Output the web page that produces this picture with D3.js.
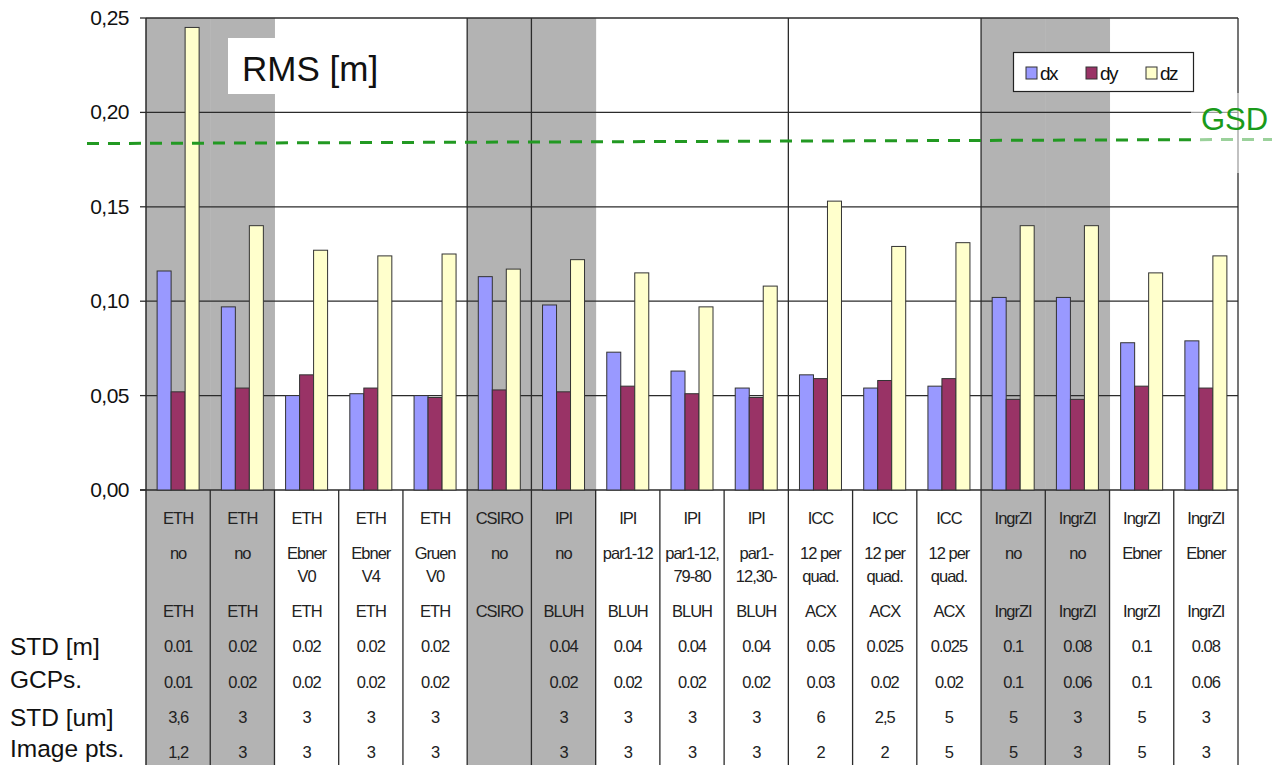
<!DOCTYPE html>
<html><head><meta charset="utf-8">
<script src="https://cdn.jsdelivr.net/npm/d3@7"></script>
<style>
html,body{margin:0;padding:0;background:#fff;}
svg{display:block;}
text{font-family:"Liberation Sans",Arial,sans-serif;}
</style></head>
<body>
<script>
// ---- data ----
const categories = ["ETH no (1)","ETH no (2)","ETH Ebner V0","ETH Ebner V4","ETH Gruen V0","CSIRO no","IPI no","IPI par1-12","IPI par1-12,79-80","IPI par1-12,30-","ICC 12pq A","ICC 12pq B","ICC 12pq C","IngrZI no A","IngrZI no B","IngrZI Ebner A","IngrZI Ebner B"];
const seriesNames = ["dx","dy","dz"];
const dxValues = [0.116,0.097,0.050,0.051,0.050,0.113,0.098,0.073,0.063,0.054,0.061,0.054,0.055,0.102,0.102,0.078,0.079];
const dyValues = [0.052,0.054,0.061,0.054,0.049,0.053,0.052,0.055,0.051,0.049,0.059,0.058,0.059,0.048,0.048,0.055,0.054];
const dzValues = [0.245,0.140,0.127,0.124,0.125,0.117,0.122,0.115,0.097,0.108,0.153,0.129,0.131,0.140,0.140,0.115,0.124];
const seriesColors = ["#9999ff","#993366","#ffffcc"];
const shadedCategories = [0,1,5,6,13,14];
const groupSeparators = [5,6,10,13]; // category index where a new group begins
const yTicks = [0,0.05,0.10,0.15,0.20,0.25];
const yTickLabels = ["0,00","0,05","0,10","0,15","0,20","0,25"];
const gsdValueStart = 0.1835, gsdValueEnd = 0.1857;

const rowInstitution = ["ETH","ETH","ETH","ETH","ETH","CSIRO","IPI","IPI","IPI","IPI","ICC","ICC","ICC","IngrZI","IngrZI","IngrZI","IngrZI"];
const rowSelfCal = ["no","no","Ebner\nV0","Ebner\nV4","Gruen\nV0","no","no","par1-12","par1-12,\n79-80","par1-\n12,30-","12 per\nquad.","12 per\nquad.","12 per\nquad.","no","no","Ebner","Ebner"];
const rowSoftware = ["ETH","ETH","ETH","ETH","ETH","CSIRO","BLUH","BLUH","BLUH","BLUH","ACX","ACX","ACX","IngrZI","IngrZI","IngrZI","IngrZI"];
const rowStdM1 = ["0.01","0.02","0.02","0.02","0.02","","0.04","0.04","0.04","0.04","0.05","0.025","0.025","0.1","0.08","0.1","0.08"];
const rowStdM2 = ["0.01","0.02","0.02","0.02","0.02","","0.02","0.02","0.02","0.02","0.03","0.02","0.02","0.1","0.06","0.1","0.06"];
const rowStdUm1 = ["3,6","3","3","3","3","","3","3","3","3","6","2,5","5","5","3","5","3"];
const rowStdUm2 = ["1,2","3","3","3","3","","3","3","3","3","2","2","5","5","3","5","3"];
const tableRows = [rowInstitution,rowSelfCal,rowSoftware,rowStdM1,rowStdM2,rowStdUm1,rowStdUm2];
const rowLabels = ["STD [m]","GCPs.","STD [um]","Image pts."];
const legendLabels = ["dx","dy","dz"];

// ---- layout ----
const W = 1282, H = 765;
const plotL = 146, plotR = 1238, plotT = 18, plotB = 490;
const svg = d3.select("body").append("svg").attr("width",W).attr("height",H);

const x = d3.scaleBand().domain(d3.range(categories.length)).range([plotL,plotR]).padding(0);
const xs = d3.scaleBand().domain(seriesNames).range([0,x.bandwidth()]).paddingInner(0).paddingOuter(0.794);
const y = d3.scaleLinear().domain([0,0.25]).range([plotB,plotT]);
const seriesData = [dxValues,dyValues,dzValues];
const shadeColor = "#b3b3b3";
const lineColor = "#2b2b2b";

// shading (plot + table)
svg.append("g").selectAll("rect").data(shadedCategories).join("rect")
  .attr("x",d=>x(d)).attr("y",plotT).attr("width",x.bandwidth()+0.5).attr("height",H-plotT)
  .attr("fill",shadeColor);

// horizontal grid
svg.append("g").selectAll("line").data(yTicks).join("line")
  .attr("x1",d=>d===0?140:plotL).attr("x2",plotR).attr("y1",d=>y(d)).attr("y2",d=>y(d))
  .attr("stroke",lineColor).attr("stroke-width",1.3);

// y ticks on axis
svg.append("g").selectAll("line").data(yTicks).join("line")
  .attr("x1",140).attr("x2",plotL).attr("y1",d=>y(d)).attr("y2",d=>y(d))
  .attr("stroke",lineColor).attr("stroke-width",1.3);

// group separator lines in plot
svg.append("g").selectAll("line").data(groupSeparators).join("line")
  .attr("x1",d=>x(d)).attr("x2",d=>x(d)).attr("y1",plotT).attr("y2",plotB)
  .attr("stroke",lineColor).attr("stroke-width",1.3);

// axis & right border
svg.append("line").attr("x1",plotL).attr("x2",plotL).attr("y1",plotT).attr("y2",H).attr("stroke",lineColor).attr("stroke-width",1.5);
svg.append("line").attr("x1",plotR).attr("x2",plotR).attr("y1",plotT).attr("y2",H).attr("stroke",lineColor).attr("stroke-width",1.3);

// table column lines
svg.append("g").selectAll("line").data(d3.range(1,categories.length)).join("line")
  .attr("x1",d=>x(d)).attr("x2",d=>x(d)).attr("y1",plotB).attr("y2",H)
  .attr("stroke",lineColor).attr("stroke-width",1.3);

// y labels
svg.append("g").selectAll("text").data(yTicks).join("text")
  .attr("x",129).attr("y",d=>y(d)+7).attr("text-anchor","end")
  .attr("font-size",21).attr("letter-spacing","-0.5").attr("fill","#111")
  .text((d,i)=>yTickLabels[i]);

// bars
seriesNames.forEach((s,si)=>{
  svg.append("g").selectAll("rect").data(seriesData[si]).join("rect")
    .attr("x",(d,i)=>x(i)+xs(s)).attr("width",xs.bandwidth())
    .attr("y",d=>y(d)).attr("height",d=>y(0)-y(d))
    .attr("fill",seriesColors[si]).attr("stroke","#333").attr("stroke-width",1);
});

// RMS title box
svg.append("rect").attr("x",228).attr("y",38).attr("width",160).attr("height",56).attr("fill","#fff");
svg.append("text").attr("x",242).attr("y",81).attr("font-size",35).attr("fill","#111").text("RMS [m]");

// legend
const lg = svg.append("g");
lg.append("rect").attr("x",1013.5).attr("y",52.5).attr("width",180).attr("height",39).attr("fill","#fff").attr("stroke","#222").attr("stroke-width",1.2);
const legX = [1026,1086,1146];
legendLabels.forEach((l,i)=>{
  lg.append("rect").attr("x",legX[i]).attr("y",67).attr("width",11).attr("height",12)
    .attr("fill",seriesColors[i]).attr("stroke","#333").attr("stroke-width",1);
  lg.append("text").attr("x",legX[i]+14).attr("y",80).attr("font-size",19).attr("letter-spacing","-1.6").attr("fill","#111").text(l);
});

// GSD line
const gsdX0 = 87, gsdX1 = 1272;
svg.append("line").attr("x1",gsdX0).attr("x2",gsdX1).attr("y1",y(gsdValueStart)).attr("y2",y(gsdValueEnd))
  .attr("stroke","#229922").attr("stroke-width",3).attr("stroke-dasharray","12,9");
// faded label backing
svg.append("rect").attr("x",1191).attr("y",93).attr("width",91).attr("height",80).attr("fill","#fff").attr("opacity",0.55);
svg.append("text").attr("x",1201).attr("y",130).attr("font-size",31).attr("fill","#1a9a1a").text("GSD");

// table text
const rowY = [518,553,611,646,682,717,752];
tableRows.forEach((row,ri)=>{
  const g = svg.append("g");
  row.forEach((t,ci)=>{
    const lines = t.split("\n");
    lines.forEach((ln,li)=>{
      g.append("text").attr("x",x(ci)+x.bandwidth()/2).attr("y",rowY[ri]+6+li*23)
        .attr("text-anchor","middle").attr("font-size",16.5).attr("letter-spacing","-1")
        .attr("fill","#222").text(ln);
    });
  });
});

// row labels
const labelY = [655,688,726,757];
svg.append("g").selectAll("text").data(rowLabels).join("text")
  .attr("x",10).attr("y",(d,i)=>labelY[i]).attr("font-size",24.5).attr("fill","#111").text(d=>d);
</script>
</body></html>
